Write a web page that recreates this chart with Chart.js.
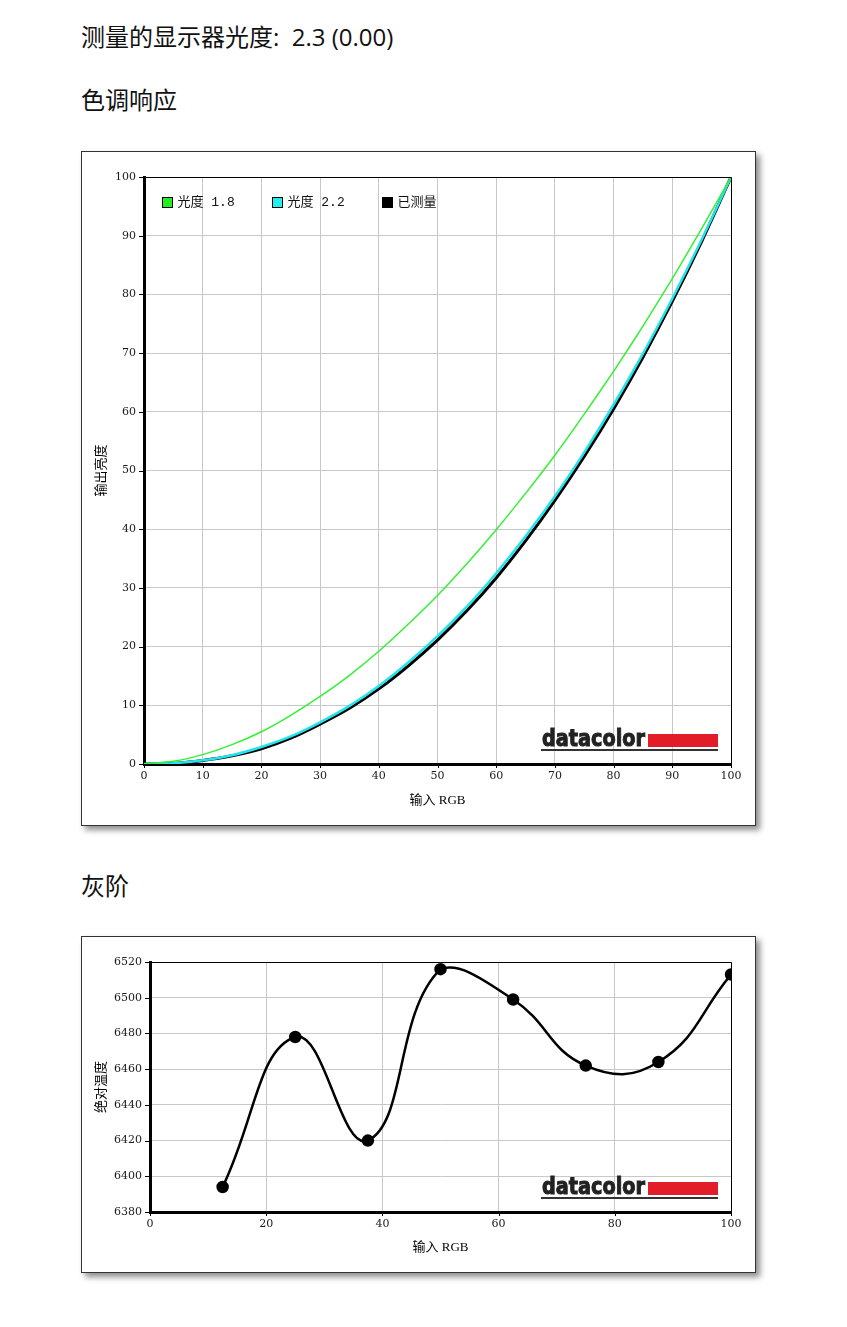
<!DOCTYPE html>
<html>
<head>
<meta charset="utf-8">
<script src="https://cdn.jsdelivr.net/npm/chart.js@4.4.0/dist/chart.umd.min.js"></script>
<style>
body { margin: 0; background: #fff; font-family: "Noto Sans CJK SC", sans-serif; color: #111; }
.h { position: absolute; left: 81px; font-size: 24px; line-height: 30px; white-space: nowrap;
     font-family: "Open Sans", "Noto Sans CJK SC", sans-serif; }
.box { position: absolute; left: 81px; width: 673px; border: 1px solid #333; background: #fff;
       box-shadow: 4px 4px 6px rgba(0,0,0,0.45); }
</style>
</head>
<body>
<div class="h" style="top:22px">测量的显示器光度:&nbsp; 2.3 (0.00)</div>
<div class="h" style="top:85px">色调响应</div>
<div class="box" style="top:151px;height:673px"><canvas id="tone"></canvas></div>
<div class="h" style="top:871px">灰阶</div>
<div class="box" style="top:936px;height:335px"><canvas id="gray"></canvas></div>

<script>
// tone response (input RGB %, output luminance %)
const rgbSteps = [0, 5, 10, 15, 20, 25, 30, 35, 40, 45, 50, 55, 60, 65, 70, 75, 80, 85, 90, 95, 100];
const gamma18  = [0, 0.46, 1.6, 3.3, 5.5, 8.3, 11.5, 15.1, 19.2, 23.8, 28.7, 34.1, 39.9, 46.1, 52.6, 59.6, 66.9, 74.6, 82.7, 91.2, 100];
const gamma22  = [0, 0.14, 0.63, 1.5, 2.9, 4.7, 7.1, 9.9, 13.3, 17.3, 21.8, 26.8, 32.5, 38.8, 45.6, 53.1, 61.2, 69.9, 79.3, 89.3, 100];
const measured = [0, 0.1, 0.6, 1.4, 2.6, 4.4, 6.8, 9.5, 12.8, 16.7, 21.1, 26.1, 31.7, 38.0, 44.9, 52.4, 60.5, 69.3, 78.8, 89.0, 100];

// grey scale (input RGB %, colour temperature K)
const grayInput = [12.5, 25, 37.5, 50, 62.5, 75, 87.5, 100];
const grayTemp  = [6394, 6478, 6420, 6516, 6499, 6462, 6464, 6513];

const legendItems = [
    { label: '光度 1.8', color: '#22ee22' },
    { label: '光度 2.2', color: '#22eeee' },
    { label: '已测量', color: '#000000' }
];

const tickFont = { family: '"DejaVu Serif"', size: 11 };
const titleFont = { family: '"Liberation Serif", "Noto Sans CJK SC"', size: 13 };

function pts(xs, ys) {
    return xs.map((x, i) => ({ x: x, y: ys[i] }));
}

// thin top/right border plus little black tick marks
const frame = {
    id: 'frame',
    afterDraw(chart) {
        const { ctx, chartArea: a, scales: { x, y } } = chart;
        ctx.save();
        ctx.strokeStyle = '#000';
        ctx.lineWidth = 1;
        ctx.beginPath();
        ctx.moveTo(a.left, a.top + 0.5);
        ctx.lineTo(a.right + 0.5, a.top + 0.5);
        ctx.lineTo(a.right + 0.5, a.bottom);
        y.ticks.forEach(t => {
            const p = Math.round(y.getPixelForValue(t.value)) + 0.5;
            ctx.moveTo(a.left - 5, p); ctx.lineTo(a.left, p);
        });
        x.ticks.forEach(t => {
            const p = Math.round(x.getPixelForValue(t.value)) + 0.5;
            ctx.moveTo(p, a.bottom); ctx.lineTo(p, a.bottom + 4);
        });
        ctx.stroke();
        ctx.restore();
    }
};

// datacolor mark in the lower right corner
const logo = {
    id: 'logo',
    beforeDatasetsDraw(chart) {
        const { ctx, chartArea: a } = chart;
        const right = a.right - 13, base = a.bottom - 14;
        ctx.save();
        ctx.fillStyle = '#e31c2a';
        ctx.fillRect(right - 70, base - 16, 70, 13);
        ctx.font = 'bold 23px "DejaVu Sans"';
        const w = ctx.measureText('datacolor').width;
        ctx.fillStyle = '#222';
        ctx.strokeStyle = '#222';
        ctx.lineWidth = 1;
        ctx.textBaseline = 'alphabetic';
        ctx.translate(right - 176, base - 4);
        ctx.scale(103 / w, 1);
        ctx.fillText('datacolor', 0, 0);
        ctx.strokeText('datacolor', 0, 0);
        ctx.restore();
        ctx.fillStyle = '#333';
        ctx.fillRect(right - 177, base - 1, 177, 2);
    }
};

const legendBox = {
    id: 'legendBox',
    afterDraw(chart) {
        const { ctx, chartArea: a } = chart;
        ctx.save();
        ctx.font = '13px "Liberation Mono", "Noto Sans CJK SC"';
        ctx.textBaseline = 'middle';
        legendItems.forEach((it, i) => {
            const x = a.left + 18.5 + i * 110, y = a.top + 20.5;
            ctx.fillStyle = it.color;
            ctx.fillRect(x, y, 10, 10);
            ctx.strokeStyle = '#000';
            ctx.lineWidth = 1;
            ctx.strokeRect(x, y, 10, 10);
            ctx.fillStyle = '#111';
            ctx.fillText(it.label, x + 15, y + 5);
        });
        ctx.restore();
    }
};

function axes(xStep, yMin, yMax, yStep, yTitle, bottomH, leftW) {
    return {
        x: {
            type: 'linear', min: 0, max: 100,
            grid: { color: '#c8c8c8', drawTicks: false },
            border: { color: '#000', width: 3 },
            ticks: { font: tickFont, color: '#1a1a1a', padding: 6, stepSize: xStep, maxRotation: 0 },
            title: { display: true, text: '输入 RGB', font: titleFont, color: '#000', padding: { top: 0, bottom: 17 } },
            afterFit: s => { s.height = bottomH; }
        },
        y: {
            min: yMin, max: yMax,
            grid: { color: '#c8c8c8', drawTicks: false },
            border: { color: '#000', width: 3 },
            ticks: { font: tickFont, color: '#1a1a1a', padding: 8, stepSize: yStep, callback: v => String(v) },
            title: { display: true, text: yTitle, font: titleFont, color: '#000', padding: { top: 12, bottom: 0 } },
            afterFit: s => { s.width = leftW; }
        }
    };
}

new Chart(document.getElementById('tone'), {
    type: 'line',
    data: {
        datasets: [
            { label: '光度 1.8', data: pts(rgbSteps, gamma18), borderColor: '#33f033', borderWidth: 1.5, pointRadius: 0, tension: 0.2 },
            { label: '光度 2.2', data: pts(rgbSteps, gamma22), borderColor: '#22e4ee', borderWidth: 2.5, pointRadius: 0, tension: 0.2 },
            { label: '已测量', data: pts(rgbSteps, measured), borderColor: '#000', borderWidth: 3, pointRadius: 0, tension: 0.2 }
        ]
    },
    options: {
        responsive: true,
        maintainAspectRatio: false,
        animation: false,
        layout: { padding: { top: 25, right: 24, left: 0, bottom: 0 } },
        scales: axes(10, 0, 100, 10, '输出亮度', 61, 62),
        plugins: { legend: { display: false }, tooltip: { enabled: false } }
    },
    plugins: [logo, legendBox, frame]
});

new Chart(document.getElementById('gray'), {
    type: 'line',
    data: {
        datasets: [
            { label: '灰阶', data: pts(grayInput, grayTemp), borderColor: '#000', borderWidth: 2.5,
              pointRadius: 5, pointBackgroundColor: '#000', pointBorderColor: '#000', tension: 0.45 }
        ]
    },
    options: {
        responsive: true,
        maintainAspectRatio: false,
        animation: false,
        layout: { padding: { top: 25, right: 24, left: 0, bottom: 0 } },
        scales: axes(20, 6380, 6520, 20, '绝对温度', 60, 68),
        plugins: { legend: { display: false }, tooltip: { enabled: false } }
    },
    plugins: [logo, frame]
});
</script>
</body>
</html>
